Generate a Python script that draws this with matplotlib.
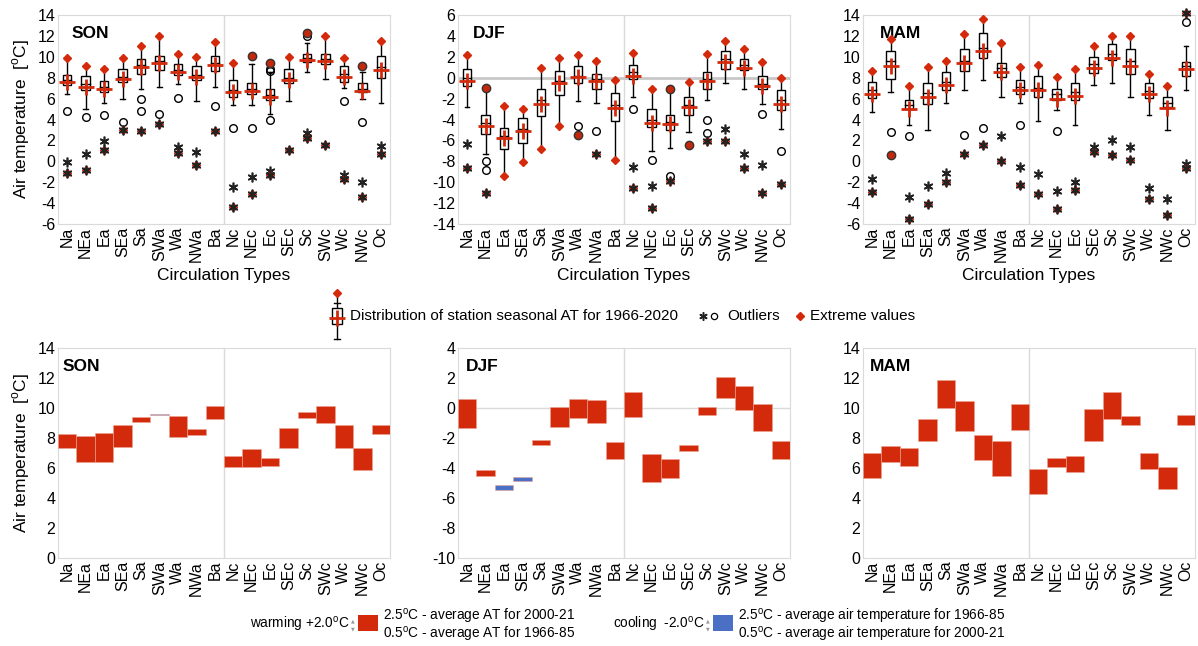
import numpy as np
import matplotlib
matplotlib.use("Agg")
import matplotlib.pyplot as plt
from matplotlib import font_manager
from matplotlib.patches import Rectangle

types = ["Na", "NEa", "Ea", "SEa", "Sa", "SWa", "Wa", "NWa", "Ba",
         "Nc", "NEc", "Ec", "SEc", "Sc", "SWc", "Wc", "NWc", "Oc"]

# ---- box plots 1966-2020, SON
son_q1 = [7.3, 6.8, 6.6, 7.6, 8.4, 8.7, 8.3, 7.8, 8.6, 6.2, 6.4, 5.9, 7.5, 9.5, 9.3, 7.6, 6.6, 8.0]
son_q3 = [8.3, 8.2, 7.7, 8.8, 9.8, 10.1, 9.3, 9.1, 10.1, 7.8, 7.5, 6.9, 8.8, 10.3, 10.3, 9.1, 7.5, 10.1]
son_med = [7.8, 7.4, 7.1, 8.1, 9.2, 9.6, 8.7, 8.3, 9.4, 6.8, 6.9, 6.3, 8.0, 9.9, 9.8, 8.4, 6.9, 9.0]
son_mean = [7.6, 7.1, 6.9, 7.9, 9.0, 9.4, 8.5, 8.1, 9.2, 6.6, 6.7, 6.2, 7.8, 9.7, 9.6, 8.1, 6.7, 8.7]
son_wlo = [6.4, 5.0, 5.6, 6.0, 6.9, 7.1, 7.4, 5.8, 7.1, 5.4, 5.4, 4.5, 5.8, 8.5, 7.9, 7.0, 6.0, 5.6]
son_whi = [9.9, 9.1, 8.8, 9.9, 11.0, 12.0, 10.3, 10.0, 11.4, 9.4, 9.3, 8.5, 10.0, 11.3, 12.0, 9.9, 8.5, 11.5]
son_top = [9.9, 9.1, 8.8, 9.9, 11.0, 12.0, 10.3, 10.0, 11.4, 9.4, 10.1, 9.4, 10.0, 12.3, 12.0, 9.9, 9.1, 11.5]
son_top_kind = ["d"] * 10 + ["o", "o", "d", "o", "d", "d", "o", "d"]
son_bot = [-1.1, -0.8, 1.1, 3.0, 2.9, 3.6, 0.8, -0.4, 2.9, -4.4, -3.1, -1.3, 1.1, 2.2, 1.6, -1.7, -3.4, 0.7]
son_bot_kind = ["x"] * 18
son_circles = [[4.8], [4.2], [4.4], [3.8], [6.0, 4.8], [4.5], [6.1], [], [5.3],
               [3.2], [3.2], [8.8, 8.6, 4.0], [], [12.0], [], [5.8], [3.8], []]
son_stars = [[-0.1], [0.7], [1.9], [], [], [], [1.4], [0.9], [],
             [-2.5], [-1.5], [-0.9], [], [2.7], [], [-1.3], [-2.0], [1.5]]

# ---- box plots 1966-2020, DJF
djf_q1 = [-0.8, -5.4, -6.8, -6.25, -3.7, -1.7, -0.55, -1.05, -4.1, -0.15, -4.7, -5.0, -3.6, -1.05, 0.8, 0.7, -1.1, -3.1]
djf_q3 = [0.8, -3.6, -4.8, -3.9, -1.1, 0.6, 1.1, 0.4, -1.5, 1.2, -2.95, -3.6, -1.85, 0.5, 2.55, 1.75, 0.2, -1.2]
djf_med = [0.0, -4.3, -5.6, -4.9, -2.1, -0.3, 0.2, -0.1, -2.6, 0.5, -4.0, -4.2, -2.6, -0.1, 1.8, 1.2, -0.6, -2.1]
djf_mean = [-0.3, -4.6, -5.8, -5.1, -2.5, -0.55, 0.1, -0.3, -2.9, 0.15, -4.3, -4.4, -2.8, -0.3, 1.5, 0.9, -0.8, -2.5]
djf_wlo = [-2.8, -7.3, -9.4, -8.1, -6.8, -4.65, -2.2, -2.4, -7.9, -1.85, -7.0, -6.7, -5.2, -2.15, -0.55, -1.1, -2.5, -4.9]
djf_whi = [2.2, -1.0, -2.7, -2.95, 0.95, 1.85, 2.2, 1.6, -0.25, 2.4, -1.05, -1.05, -0.4, 2.3, 3.5, 2.75, 1.5, 0.0]
djf_top = djf_whi
djf_top_kind = ["d", "o", "d", "d", "d", "d", "d", "d", "d", "d", "d", "o", "d", "d", "d", "d", "d", "d"]
djf_bot = [-8.6, -11.05, -9.4, -8.1, -6.8, -4.65, -5.5, -7.3, -7.9, -10.6, -12.45, -9.85, -6.45, -6.05, -6.05, -8.65, -11.05, -10.2]
djf_bot_kind = ["x", "x", "d", "d", "d", "d", "o", "x", "d", "x", "x", "x", "o", "x", "x", "x", "x", "x"]
djf_circles = [[], [-8.0, -8.8], [], [], [], [], [-4.6], [-5.1], [],
               [-2.95], [-7.9], [-9.45], [], [-4.0, -5.3], [], [], [-3.5], [-7.05]]
djf_stars = [[-6.3], [], [], [], [], [], [], [], [],
             [-8.5], [-10.35], [], [], [], [-4.9], [-7.3], [-8.4], []]

# ---- box plots 1966-2020, MAM
mam_q1 = [6.05, 7.9, 5.05, 5.5, 6.8, 8.6, 9.85, 8.1, 6.4, 6.15, 5.9, 5.9, 8.45, 9.7, 8.4, 6.05, 5.15, 8.15]
mam_q3 = [7.6, 10.55, 5.9, 7.5, 8.55, 10.7, 12.25, 9.4, 7.75, 8.15, 6.95, 7.45, 10.0, 11.2, 10.7, 7.5, 6.15, 9.5]
mam_med = [6.8, 9.6, 5.4, 6.5, 7.6, 9.6, 10.8, 8.9, 7.1, 7.0, 6.4, 6.6, 9.3, 10.3, 9.6, 6.7, 5.6, 9.1]
mam_mean = [6.4, 9.1, 5.0, 6.15, 7.3, 9.45, 10.6, 8.55, 6.8, 6.85, 5.95, 6.25, 8.95, 9.9, 9.1, 6.4, 5.1, 8.8]
mam_wlo = [4.7, 6.6, 3.45, 2.95, 5.6, 6.85, 7.75, 6.15, 5.6, 3.9, 4.95, 3.45, 7.3, 7.45, 6.15, 4.4, 3.0, 6.85]
mam_whi = [8.6, 11.7, 7.2, 9.05, 9.6, 12.2, 13.6, 11.35, 9.05, 9.25, 8.1, 8.8, 11.05, 12.0, 12.0, 8.35, 7.2, 11.0]
mam_top = [8.6, 11.7, 7.2, 9.05, 9.6, 12.2, 13.6, 11.35, 9.05, 9.25, 8.1, 8.8, 11.05, 12.0, 12.0, 8.35, 7.2, 14.2]
mam_top_kind = ["d"] * 17 + ["x"]
mam_bot = [-2.9, 0.6, -5.5, -4.1, -1.95, 0.7, 1.6, 0.0, -2.25, -3.1, -4.55, -2.75, 0.9, 0.6, 0.1, -3.6, -5.15, -0.65]
mam_bot_kind = ["x", "o"] + ["x"] * 16
mam_circles = [[], [2.8], [2.4], [], [], [2.55], [3.2], [], [3.5],
               [], [2.9], [], [], [], [], [], [], [13.35]]
mam_stars = [[-1.7], [], [-3.4], [-2.4], [-1.15], [], [], [2.4], [-0.5],
             [-1.2], [-2.8], [-1.95], [1.35], [2.0], [1.35], [-2.6], [-3.6], [-0.3]]

# ---- change bars: low / high end, colour (w = warming, c = cooling)
son_low = [7.31, 6.42, 6.38, 7.38, 9.05, 9.55, 8.09, 8.2, 9.27, 6.04, 6.09, 6.15, 7.31, 9.32, 9.03, 7.31, 5.86, 8.27]
son_high = [8.27, 8.14, 8.32, 8.87, 9.39, 9.62, 9.47, 8.58, 10.14, 6.8, 7.25, 6.69, 8.65, 9.72, 10.14, 8.87, 7.31, 8.87]
son_sign = ["w"] * 5 + ["c"] + ["w"] * 12
djf_low = [-1.35, -4.56, -5.47, -4.84, -2.48, -1.28, -0.67, -1.0, -3.43, -0.62, -4.9, -4.68, -2.86, -0.49, 0.65, -0.1, -1.55, -3.39]
djf_high = [0.58, -4.1, -5.13, -4.6, -2.14, 0.06, 0.6, 0.53, -2.25, 1.05, -3.07, -3.39, -2.46, 0.08, 2.07, 1.44, 0.3, -2.23]
djf_sign = ["w", "w", "c", "c"] + ["w"] * 14
mam_low = [5.31, 6.38, 6.13, 7.8, 9.99, 8.47, 6.53, 5.48, 8.54, 4.3, 6.09, 5.75, 7.8, 9.25, 8.87, 5.91, 4.57, 8.87]
mam_high = [7.02, 7.47, 7.36, 9.27, 11.88, 10.48, 8.2, 7.83, 10.26, 5.91, 6.64, 6.82, 9.92, 11.06, 9.5, 7.02, 6.06, 9.54]
mam_sign = ["w"] * 18

RED = "#d42a0c"
BLUE = "#4a6fc4"
GRID = "#dadada"

names = {f.name for f in font_manager.fontManager.ttflist}
if "Liberation Sans Narrow" in names:
    narrow, leg_fs, leg2_fs = "Liberation Sans Narrow", 12, 11.2
else:
    narrow, leg_fs, leg2_fs = "Liberation Sans", 11, 9.8

plt.rcParams["font.family"] = "Liberation Sans"
plt.rcParams["axes.unicode_minus"] = False
plt.rcParams["mathtext.fontset"] = "custom"
plt.rcParams["mathtext.rm"] = "Liberation Sans"

W, H = 1198, 646
fig = plt.figure(figsize=(W / 100, H / 100), dpi=100)


def px_axes(left, top, right, bottom):
    return fig.add_axes([left / W, 1 - bottom / H, (right - left) / W, (bottom - top) / H])


def style(ax, lo, hi, title, tx):
    ax.set_xlim(-0.5, 17.5)
    ax.set_ylim(lo, hi)
    ax.set_yticks(np.arange(lo, hi + 1, 2))
    ax.set_xticks(range(len(types)))
    ax.set_xticklabels(types, rotation=90)
    ax.tick_params(length=0, labelsize=11.5, pad=2)
    for s in ax.spines.values():
        s.set_color(GRID)
    ax.axvline(8.5, color=GRID, lw=1, zorder=0)
    ax.text(tx, 0.91, title, transform=ax.transAxes, fontsize=12.5,
            fontweight="bold", va="center")


def extreme(ax, i, v, kind):
    if kind == "d":
        ax.plot(i, v, "D", ms=4.5, color=RED, zorder=6, clip_on=False)
    elif kind == "o":
        ax.plot(i, v, "o", ms=6, mfc="#c4280c", mec="#333333", mew=1, zorder=6, clip_on=False)
    elif kind == "x":
        ax.plot(i, v, "D", ms=4.5, color=RED, zorder=5, clip_on=False)
        ax.plot(i, v, marker=(6, 2, 0), ms=7, color="#222222", mew=1.2, zorder=6, clip_on=False)


def box_panel(ax, q1, q3, med, mean, wlo, whi, top, top_kind, bot, bot_kind, circles, stars):
    for i in range(len(types)):
        ax.add_patch(Rectangle((i - 0.23, q1[i]), 0.46, q3[i] - q1[i], fc="white",
                               ec="black", lw=1, zorder=3))
        ax.plot([i - 0.23, i + 0.23], [med[i], med[i]], color="black", lw=1, zorder=4)
        ax.plot([i, i], [q3[i], whi[i]], color="black", lw=1, zorder=2)
        ax.plot([i, i], [wlo[i], q1[i]], color="black", lw=1, zorder=2)
        for w in (wlo[i], whi[i]):
            ax.plot([i - 0.12, i + 0.12], [w, w], color="black", lw=1, zorder=2)
        for v in circles[i]:
            ax.plot(i, v, "o", ms=5.5, mfc="none", mec="black", mew=1, zorder=5, clip_on=False)
        for v in stars[i]:
            ax.plot(i, v, marker=(6, 2, 0), ms=7, color="#222222", mew=1.2, zorder=5)
        extreme(ax, i, top[i], top_kind[i])
        extreme(ax, i, bot[i], bot_kind[i])
        ax.plot(i, mean[i], marker="+", ms=11, mew=2, color=RED, zorder=7)


def bar_panel(ax, low, high, sign):
    colors = [RED if s == "w" else BLUE for s in sign]
    h = np.array(high) - np.array(low)
    ax.bar(range(len(types)), h, bottom=low, width=1.0, color=colors,
           edgecolor="#e9a493", lw=0.4, zorder=3)


ylab = "Air temperature  [$^{\\mathrm{o}}$C]"

# top row
ax = px_axes(58, 15, 390, 224)
box_panel(ax, son_q1, son_q3, son_med, son_mean, son_wlo, son_whi, son_top,
          son_top_kind, son_bot, son_bot_kind, son_circles, son_stars)
style(ax, -6, 14, "SON", 0.04)
ax.set_ylabel(ylab, fontsize=12.5, labelpad=4)

ax = px_axes(458, 15, 790, 224)
ax.axhline(0, color="#c8c8c8", lw=2, zorder=1)
box_panel(ax, djf_q1, djf_q3, djf_med, djf_mean, djf_wlo, djf_whi, djf_top,
          djf_top_kind, djf_bot, djf_bot_kind, djf_circles, djf_stars)
style(ax, -14, 6, "DJF", 0.045)

ax = px_axes(863, 15, 1195, 224)
box_panel(ax, mam_q1, mam_q3, mam_med, mam_mean, mam_wlo, mam_whi, mam_top,
          mam_top_kind, mam_bot, mam_bot_kind, mam_circles, mam_stars)
style(ax, -6, 14, "MAM", 0.05)

for ax in fig.axes:
    ax.set_xlabel("Circulation Types", fontsize=12.5, labelpad=5)

# bottom row
ax = px_axes(58, 348, 390, 558)
bar_panel(ax, son_low, son_high, son_sign)
style(ax, 0, 14, "SON", 0.015)
ax.set_ylabel(ylab, fontsize=12.5, labelpad=4)

ax = px_axes(458, 348, 790, 558)
ax.axhline(0, color=GRID, lw=1, zorder=1)
bar_panel(ax, djf_low, djf_high, djf_sign)
style(ax, -10, 4, "DJF", 0.025)

ax = px_axes(863, 348, 1195, 558)
bar_panel(ax, mam_low, mam_high, mam_sign)
style(ax, 0, 14, "MAM", 0.022)

# legends, drawn in pixel coordinates
lg = fig.add_axes([0, 0, 1, 1], zorder=-1)
lg.set_xlim(0, W)
lg.set_ylim(H, 0)
lg.axis("off")

gx = 337
lg.plot([gx, gx], [296, 339], color="black", lw=1)
lg.plot([gx - 3, gx + 3], [303, 303], color="black", lw=1)
lg.plot([gx - 3, gx + 3], [339, 339], color="black", lw=1)
lg.add_patch(Rectangle((gx - 5, 308), 10, 16, fc="white", ec="black", lw=1, zorder=3))
lg.plot(gx, 293, "D", ms=4.5, color=RED)
lg.plot(gx, 318, marker="+", ms=11, mew=2, color=RED, zorder=5)
lg.text(350, 316, "Distribution of station seasonal AT for 1966-2020", family=narrow,
        fontsize=leg_fs, va="center")
lg.plot(703, 316, marker=(6, 2, 0), ms=6, color="#222222", mew=1.1)
lg.plot(714, 316, "o", ms=4.5, mfc="none", mec="black", mew=0.9)
lg.text(727, 316, "Outliers", family=narrow, fontsize=leg_fs, va="center")
lg.plot(800, 316, "D", ms=4, color=RED)
lg.text(810, 316, "Extreme values", family=narrow, fontsize=leg_fs, va="center")

deg = "$^{\\mathrm{o}}$C"
for x0, word, col, l1, l2 in [
        (349, "warming +2.0", RED, "2.5" + deg + " - average AT for 2000-21",
         "0.5" + deg + " - average AT for 1966-85"),
        (704, "cooling  -2.0", BLUE, "2.5" + deg + " - average air temperature for 1966-85",
         "0.5" + deg + " - average air temperature for 2000-21")]:
    lg.text(x0, 625, word + deg, family=narrow, fontsize=leg2_fs, ha="right", va="center")
    lg.text(x0 + 4, 621, "\u25b2", family="DejaVu Sans", fontsize=3.5, color="#999999",
            ha="center", va="center")
    lg.text(x0 + 4, 629, "\u25bc", family="DejaVu Sans", fontsize=3.5, color="#999999",
            ha="center", va="center")
    lg.add_patch(Rectangle((x0 + 9, 615), 20, 16, fc=col, ec="none"))
    lg.text(x0 + 34, 617, l1, family=narrow, fontsize=leg2_fs, va="center")
    lg.text(x0 + 34, 634, l2, family=narrow, fontsize=leg2_fs, va="center")

fig.savefig("out.png", dpi=100)
